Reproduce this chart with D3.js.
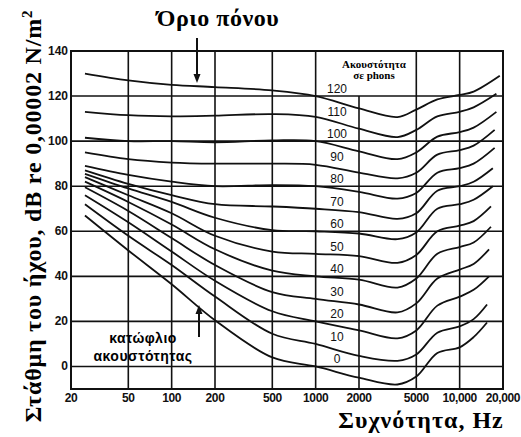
<!DOCTYPE html>
<html>
<head>
<meta charset="utf-8">
<script src="https://cdn.jsdelivr.net/npm/d3@7"></script>
<style>
  body { margin: 0; background: #fff; }
  svg { display: block; }
</style>
</head>
<body>
<div class="container"></div>
<script>
var width = 521;
var height = 437;
var ink = "#111";

// frequencies read at the grid, last point of each curve is its own end frequency
var freqs = [25, 50, 100, 200, 500, 1000, 2000, 3700, 5000, 7000, 10000, 12500];
var endFreqs = [15500, 15500, 16000, 16000, 16500, 16500, 17000, 17000, 17500, 17500, 18000, 18000, 19000];
var phons = [0, 10, 20, 30, 40, 50, 60, 70, 80, 90, 100, 110, 120];

var level0   = [67, 51.5, 36.5, 20.5, 4, 0, -5, -8, -4.5, 6, 8.5, 13, 19.5];
var level10  = [72, 58, 45, 31, 14.5, 10, 4.7, 2.5, 5.3, 15, 17.8, 21, 27.5];
var level20  = [76, 64, 51, 38, 24.5, 20, 16, 12.5, 16, 27, 31, 34, 40];
var level30  = [79.5, 69, 57, 45, 33, 30, 27.5, 24, 28, 39, 43, 45.5, 52];
var level40  = [82, 73, 63, 52, 42.5, 40, 38.5, 35, 39, 50, 53, 55, 62];
var level50  = [84, 76, 68, 58, 51, 50, 49, 46, 49.5, 60, 62.5, 64.5, 71];
var level60  = [85.5, 79, 73, 66, 60.5, 60, 59, 56.5, 59.5, 70, 72, 74, 80];
var level70  = [87, 81, 76, 72, 71, 70, 68.5, 65.5, 68, 78, 80, 82, 88];
var level80  = [89, 85, 82, 80, 80.5, 80, 77.5, 74.5, 77, 86, 88, 90, 97];
var level90  = [95, 92, 90.5, 90, 90, 89.5, 86, 83.5, 86, 94, 96, 98, 105];
var level100 = [101.5, 100, 100, 99.5, 100.3, 100, 95.5, 92, 95, 102, 104, 106, 113];
var level110 = [113, 111.5, 111, 111.3, 112, 110.8, 105.5, 101.8, 105, 111, 113, 115, 121];
var level120 = [130, 127, 125, 124, 122.5, 120, 114.5, 110.7, 114, 118.5, 120.5, 122, 129];
var levels = [level0, level10, level20, level30, level40, level50, level60,
              level70, level80, level90, level100, level110, level120];

var xTicks = [20, 50, 100, 200, 500, 1000, 2000, 5000, 10000, 20000];
var xTickLabels = ["20", "50", "100", "200", "500", "1000", "2000", "5000", "10,000", "20,000"];
var yTicks = [0, 20, 40, 60, 80, 100, 120, 140];

var xScale = d3.scaleLog().domain([20, 20000]).range([71, 503]);
var yScale = d3.scaleLinear().domain([-10, 140]).range([389, 51]);

var svg = d3.select(".container").append("svg")
  .attr("width", width).attr("height", height);

// grid
svg.append("g").selectAll("line")
  .data(xTicks.slice(1, -1))
  .enter().append("line")
  .attr("x1", d => xScale(d)).attr("x2", d => xScale(d))
  .attr("y1", d => d == 2000 ? yScale(120) : yScale(140))
  .attr("y2", yScale(-10))
  .attr("stroke", ink).attr("stroke-width", 1.6);

svg.append("g").selectAll("line")
  .data(yTicks.slice(0, -1))
  .enter().append("line")
  .attr("x1", xScale(20)).attr("x2", xScale(20000))
  .attr("y1", d => yScale(d)).attr("y2", d => yScale(d))
  .attr("stroke", ink).attr("stroke-width", 1.6);

svg.append("rect")
  .attr("x", xScale(20)).attr("y", yScale(140))
  .attr("width", xScale(20000) - xScale(20))
  .attr("height", yScale(-10) - yScale(140))
  .attr("fill", "none").attr("stroke", ink).attr("stroke-width", 2);

// tick labels
svg.append("g").selectAll("text")
  .data(yTicks)
  .enter().append("text")
  .attr("x", xScale(20) - 3).attr("y", d => yScale(d) + 4)
  .attr("text-anchor", "end")
  .style("font", "bold 12px 'Liberation Sans', sans-serif")
  .attr("fill", ink)
  .text(d => d);

svg.append("g").selectAll("text")
  .data(xTicks)
  .enter().append("text")
  .attr("x", (d, i) => i == xTicks.length - 1 ? 520 : xScale(d))
  .attr("y", yScale(-10) + 13)
  .attr("text-anchor", (d, i) => i == xTicks.length - 1 ? "end" : "middle")
  .style("font", "bold 12px 'Liberation Sans', sans-serif")
  .style("letter-spacing", "-0.4px")
  .attr("fill", ink)
  .text((d, i) => xTickLabels[i]);

// curves
var line = d3.line()
  .x(d => xScale(d[0]))
  .y(d => yScale(d[1]))
  .curve(d3.curveCatmullRom.alpha(0.5));

svg.append("g").selectAll("path")
  .data(levels)
  .enter().append("path")
  .attr("d", (lv, i) => line(lv.map((v, j) => [j < freqs.length ? freqs[j] : endFreqs[i], v])))
  .attr("fill", "none").attr("stroke", ink).attr("stroke-width", 1.8);

// curve labels
svg.append("g").selectAll("text")
  .data(phons)
  .enter().append("text")
  .attr("x", 337).attr("y", d => yScale(d) - 3)
  .attr("text-anchor", "middle")
  .style("font", "12px 'Liberation Sans', sans-serif")
  .attr("fill", ink)
  .text(d => d);

// legend title
svg.append("text").attr("x", 374).attr("y", 68)
  .attr("text-anchor", "middle")
  .style("font", "bold 11px 'Liberation Serif', serif")
  .text("Ακουστότητα");
svg.append("text").attr("x", 374).attr("y", 79)
  .attr("text-anchor", "middle")
  .style("font", "bold 11px 'Liberation Serif', serif")
  .text("σε phons");

// annotations
function arrow(x, y1, y2) {
  var dir = y2 > y1 ? 1 : -1;
  svg.append("line").attr("x1", x).attr("x2", x).attr("y1", y1).attr("y2", y2 - dir * 6)
    .attr("stroke", ink).attr("stroke-width", 2);
  svg.append("path")
    .attr("d", "M" + (x - 3.5) + "," + (y2 - dir * 9) + "L" + (x + 3.5) + "," + (y2 - dir * 9) + "L" + x + "," + y2 + "Z")
    .attr("fill", ink);
}
arrow(197, 38, 83);
arrow(199, 337, 305);

svg.append("text").attr("x", 218).attr("y", 26)
  .attr("text-anchor", "middle")
  .style("font", "bold 24px 'Liberation Serif', serif")
  .style("letter-spacing", "0.5px")
  .text("Όριο πόνου");

svg.append("text").attr("x", 143).attr("y", 343)
  .attr("text-anchor", "middle")
  .style("font", "bold 14px 'Liberation Sans', sans-serif")
  .style("letter-spacing", "0.5px")
  .text("κατώφλιο");
svg.append("text").attr("x", 143).attr("y", 361)
  .attr("text-anchor", "middle")
  .style("font", "bold 14px 'Liberation Sans', sans-serif")
  .style("letter-spacing", "0.5px")
  .text("ακουστότητας");

svg.append("text").attr("x", 421).attr("y", 428)
  .attr("text-anchor", "middle")
  .style("font", "bold 24px 'Liberation Serif', serif")
  .style("letter-spacing", "1px")
  .text("Συχνότητα, Hz");

svg.append("text")
  .attr("transform", "translate(41,216) rotate(-90)")
  .attr("text-anchor", "middle")
  .style("font", "bold 24px 'Liberation Serif', serif")
  .style("letter-spacing", "0.8px")
  .html("Στάθμη του ήχου, dB re 0,00002 N/m<tspan dy='-9' font-size='15'>2</tspan>");
</script>
</body>
</html>
